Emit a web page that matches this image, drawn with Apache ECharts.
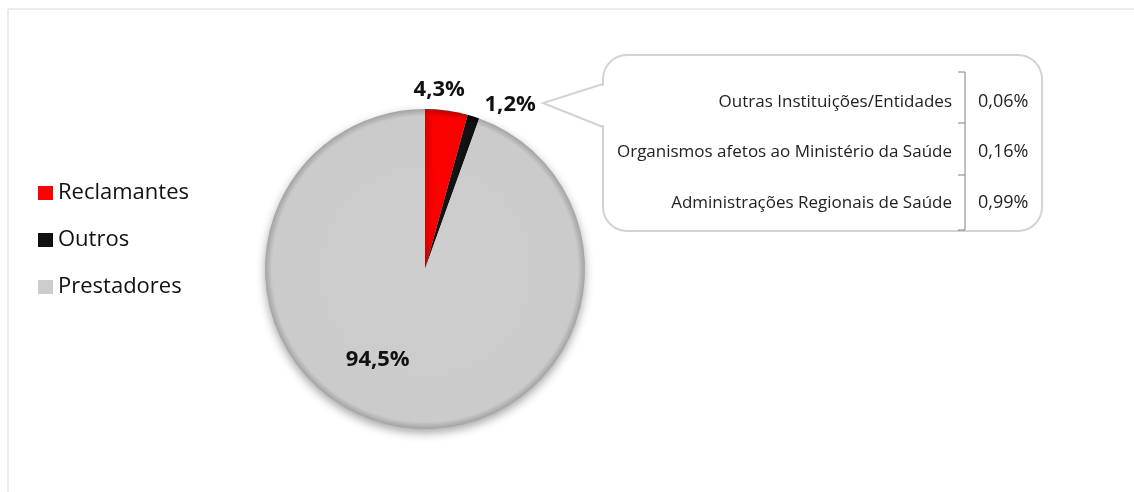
<!DOCTYPE html>
<html>
<head>
<meta charset="utf-8">
<script src="https://cdn.jsdelivr.net/npm/echarts@6/dist/echarts.min.js"></script>
<style>
  html, body { margin: 0; padding: 0; background: #fff; }
  #chart { width: 1134px; height: 492px; }
</style>
</head>
<body>
<div id="chart"></div>
<script>
// dados
var categorias = ['Reclamantes', 'Outros', 'Prestadores'];
var valores = [4.3, 1.2, 94.5];
var cores = ['#ff0000', '#111111', '#cccccc'];

// detalhe de "Outros"
var outrosNomes = ['Outras Instituições/Entidades', 'Organismos afetos ao Ministério da Saúde', 'Administrações Regionais de Saúde'];
var outrosValores = [0.06, 0.16, 0.99];

var cx = 425, cy = 269, R = 160;
var fonte = '"Open Sans", "Noto Sans", sans-serif';

function fmt(v, d) {
    return v.toFixed(d).replace('.', ',') + '%';
}

function gradiente(c0, c1, c2) {
    return {
        type: 'radial', x: cx, y: cy, r: R, global: true,
        colorStops: [
            { offset: 0, color: c0 },
            { offset: 0.955, color: c1 },
            { offset: 1, color: c2 }
        ]
    };
}

var gradientes = [
    gradiente('#ff0000', '#fb0000', '#c00000'),
    gradiente('#1a1a1a', '#111111', '#000000'),
    gradiente('#cecece', '#cbcbcb', '#a2a2a2')
];

// ajustes das etiquetas (deslocamento a partir da posição "inside")
var ajusteEtiqueta = [[3, -97], [60, -85], [-33, 9]];

var myChart = echarts.init(document.getElementById('chart'));

// caixa de detalhe
var bx = 603, by = 55, bw = 439, bh = 176;
var tipX = 543, tipY = 103;
var graficos = [
    { type: 'rect', shape: { x: 8, y: 9, width: 1300, height: 700 },
      style: { fill: 'none', stroke: '#d9d9d9', lineWidth: 1 }, silent: true },
    { type: 'rect', shape: { x: bx, y: by, width: bw, height: bh, r: 24 },
      style: { fill: '#fff', stroke: '#d3d3d3', lineWidth: 2 }, silent: true },
    { type: 'polygon', shape: { points: [[bx + 3, 85], [tipX, tipY], [bx + 3, 126]] },
      style: { fill: '#fff', stroke: null }, silent: true },
    { type: 'polyline', shape: { points: [[bx, 84], [tipX, tipY], [bx, 127]] },
      style: { fill: null, stroke: '#d3d3d3', lineWidth: 2 }, silent: true },
    { type: 'line', shape: { x1: 965, y1: 72, x2: 965, y2: 230 },
      style: { stroke: '#808080', lineWidth: 1 }, silent: true }
];
[72, 123, 175, 230].forEach(function (y) {
    graficos.push({ type: 'line', shape: { x1: 958, y1: y, x2: 965, y2: y },
        style: { stroke: '#808080', lineWidth: 1 }, silent: true });
});
var linhasY = [102, 152, 203];
outrosNomes.forEach(function (n, i) {
    graficos.push({ type: 'text', x: 952, y: linhasY[i],
        style: { text: n, fill: '#222', font: '17px ' + fonte, textAlign: 'right', textVerticalAlign: 'middle' } });
    graficos.push({ type: 'text', x: 978, y: linhasY[i],
        style: { text: fmt(outrosValores[i], 2), fill: '#222', font: '18px ' + fonte, textAlign: 'left', textVerticalAlign: 'middle' } });
});

var option = {
    backgroundColor: '#fff',
    animation: false,
    legend: {
        orient: 'vertical',
        left: 38,
        top: 181,
        padding: 0,
        itemWidth: 15,
        itemHeight: 14,
        itemGap: 23,
        icon: 'rect',
        textStyle: { fontSize: 22, fontFamily: fonte, color: '#111', lineHeight: 24 },
        data: categorias.map(function (c, i) {
            return { name: c, itemStyle: { color: cores[i] } };
        })
    },
    graphic: graficos,
    series: [{
        type: 'pie',
        center: [cx, cy],
        radius: R,
        startAngle: 90,
        clockwise: true,
        avoidLabelOverlap: false,
        label: {
            show: true,
            position: 'inside',
            fontSize: 22,
            fontWeight: 'bold',
            fontFamily: fonte,
            color: '#111',
            formatter: function (p) { return fmt(p.value, 1); }
        },
        labelLine: { show: false },
        labelLayout: function (p) {
            var a = ajusteEtiqueta[p.dataIndex];
            return { dx: a[0], dy: a[1] };
        },
        emphasis: { disabled: true },
        data: categorias.map(function (c, i) {
            var st = { color: gradientes[i] };
            if (i === 2) {
                st.shadowBlur = 10;
                st.shadowColor = 'rgba(0,0,0,0.35)';
                st.shadowOffsetY = 4;
            }
            return { name: c, value: valores[i], itemStyle: st };
        })
    }]
};

myChart.setOption(option);
</script>
</body>
</html>
